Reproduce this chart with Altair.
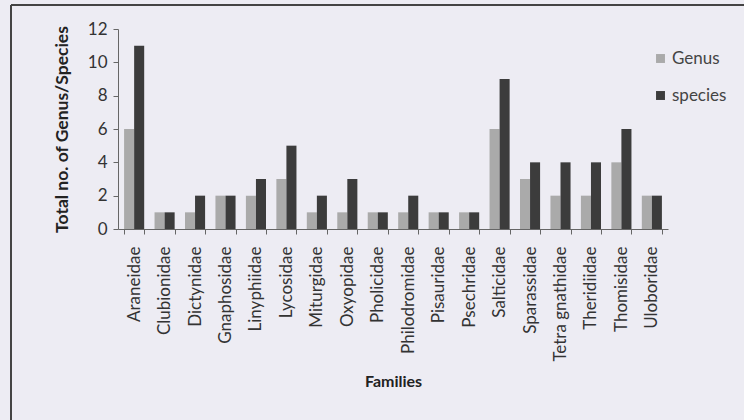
import altair as alt
import pandas as pd

families = ["Araneidae", "Clubionidae", "Dictynidae", "Gnaphosidae", "Linyphiidae",
            "Lycosidae", "Miturgidae", "Oxyopidae", "Pholicidae", "Philodromidae",
            "Pisauridae", "Psechridae", "Salticidae", "Sparassidae", "Tetra gnathidae",
            "Theridiidae", "Thomisidae", "Uloboridae"]
genus = [6, 1, 1, 2, 2, 3, 1, 1, 1, 1, 1, 1, 6, 3, 2, 2, 4, 2]
species = [11, 1, 2, 2, 3, 5, 2, 3, 1, 2, 1, 1, 9, 4, 4, 4, 6, 2]
series = ["Genus", "species"]
y_ticks = [0, 2, 4, 6, 8, 10, 12]

rows = []
for f, g, s in zip(families, genus, species):
    rows.append({"Family": f, "Series": "Genus", "Value": g})
    rows.append({"Family": f, "Series": "species", "Value": s})
df = pd.DataFrame(rows)

FONT = "Lato"

bars = alt.Chart(df).mark_bar().encode(
    x=alt.X("Family:N", sort=families,
            scale=alt.Scale(paddingInner=0.34, paddingOuter=0.2),
            axis=alt.Axis(title="Families", labelAngle=-90, tickBand="extent",
                          labelFontSize=17, labelColor="#333333", labelFont=FONT,
                          titleFont=FONT, titleFontSize=16, titleFontWeight="bold",
                          titleColor="#222222", titlePadding=12,
                          domainColor="#666666", tickColor="#666666", tickSize=5,
                          labelPadding=12)),
    xOffset=alt.XOffset("Series:N", sort=series),
    y=alt.Y("Value:Q", scale=alt.Scale(domain=[0, 12]),
            axis=alt.Axis(title="Total no. of  Genus/Species", values=y_ticks,
                          grid=False, labelFontSize=17, labelColor="#333333",
                          labelFont=FONT, titleFont=FONT, titleFontSize=17.5,
                          titleFontWeight="bold", titleColor="#222222",
                          titlePadding=16, domainColor="#666666",
                          tickColor="#666666", tickSize=5, labelPadding=6)),
    color=alt.Color("Series:N", sort=series,
                    scale=alt.Scale(domain=series, range=["#aaaaaa", "#3c3c3c"]),
                    legend=alt.Legend(title=None, orient="none", legendX=534,
                                      legendY=21, symbolType="square",
                                      symbolSize=80, labelFontSize=17,
                                      labelFont=FONT, labelColor="#444444",
                                      rowPadding=19, labelOffset=3,
                                      symbolStrokeWidth=0)),
)

border_left = alt.Chart(df).mark_rule(color="#444444", strokeWidth=2).encode(
    x=alt.value(-107), y=alt.value(-24), y2=alt.value(400))
border_top = alt.Chart(df).mark_rule(color="#444444", strokeWidth=2).encode(
    x=alt.value(-107), x2=alt.value(700), y=alt.value(-24))

chart = alt.layer(bars, border_left, border_top).properties(
    width=550, height=200,
    autosize=alt.AutoSizeParams(type="none"),
    padding={"left": 118, "top": 29, "right": 76, "bottom": 191},
    background="#edecf3",
).configure_view(stroke=None)

chart.save("out.html", embed_options={"renderer": "svg", "actions": False})
